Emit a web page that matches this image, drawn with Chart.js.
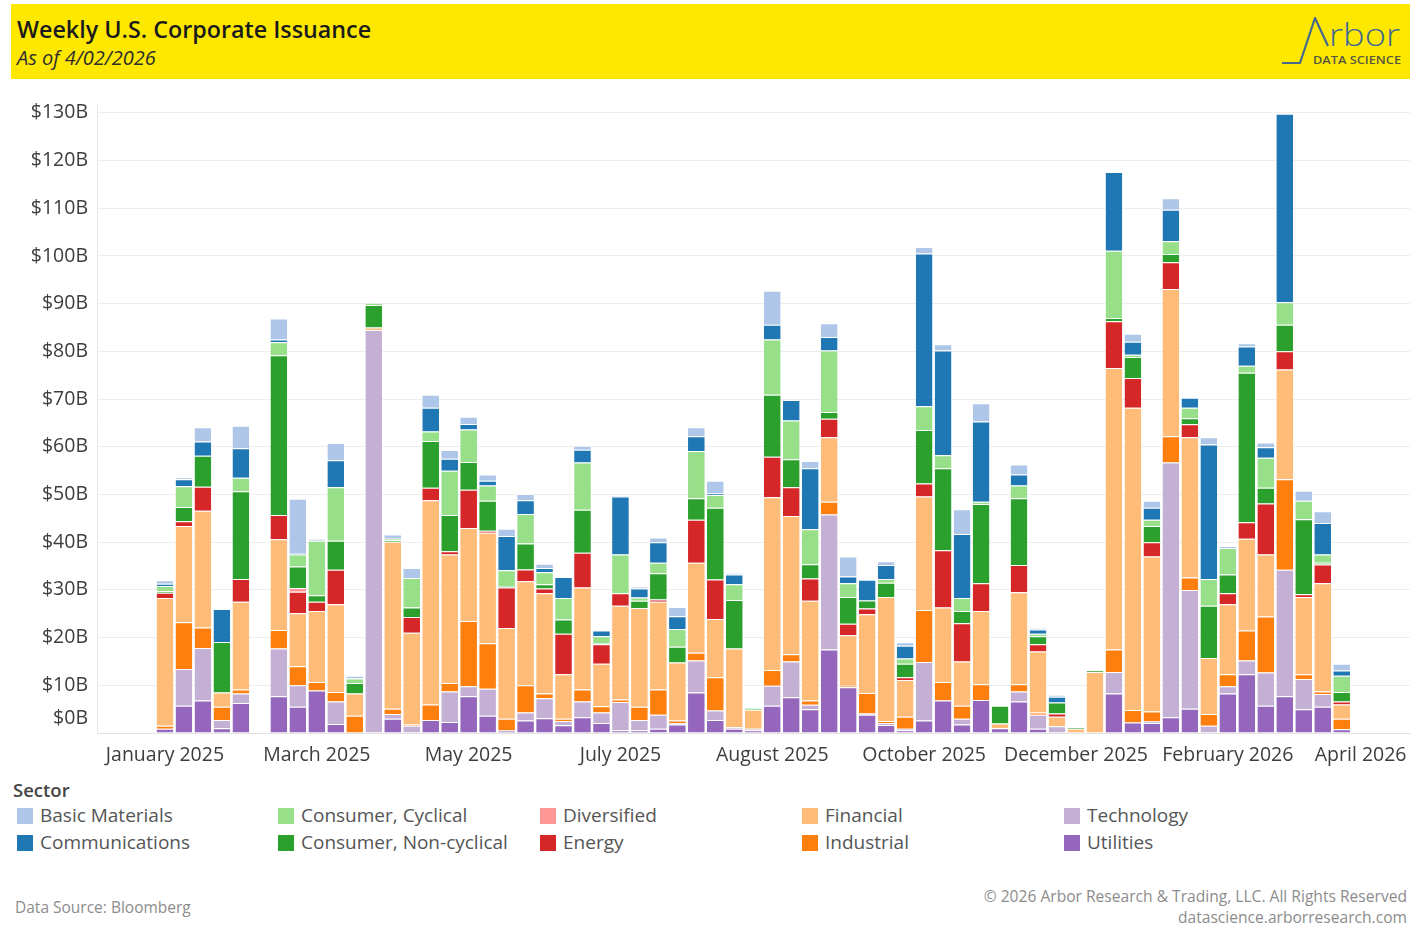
<!DOCTYPE html>
<html>
<head>
<meta charset="utf-8">
<script src="https://cdn.jsdelivr.net/npm/chart.js@4.4.1/dist/chart.umd.min.js"></script>
<style>
  html, body { margin: 0; padding: 0; background: #ffffff; width: 1422px; height: 925px; overflow: hidden; font-family: "Open Sans", sans-serif; }
  #header { position: absolute; left: 11px; top: 4px; width: 1399px; height: 75px; background: #ffe800; }
  #title { position: absolute; left: 6px; top: 9px; font-size: 23.3px; font-weight: 600; color: #1b1b1b; white-space: nowrap; }
  #subtitle { position: absolute; left: 6px; top: 40px; font-size: 20px; font-style: italic; color: #2e2e2e; white-space: nowrap; }
  #logo { position: absolute; left: 1270px; top: 10px; }
  #chartWrap { position: absolute; left: 0; top: 85px; width: 1422px; height: 690px; }
  #legendTitle { position: absolute; left: 13px; top: 777px; font-size: 18.5px; font-weight: 600; color: #444; }
  .lg { position: absolute; height: 20px; white-space: nowrap; font-size: 19px; color: #555; }
  .lg .sw { position: absolute; left: 0; top: 2px; width: 16px; height: 16px; }
  .lg .tx { position: absolute; left: 23px; top: -4px; }
  #source { position: absolute; left: 15px; top: 896px; font-size: 15.5px; color: #8c8c8c; }
  #copy { position: absolute; right: 15px; top: 886px; font-size: 15.6px; color: #8c8c8c; text-align: right; line-height: 21px; }
</style>
</head>
<body>
<div id="header">
  <div id="title">Weekly U.S. Corporate Issuance</div>
  <div id="subtitle">As of 4/02/2026</div>
</div>
<svg id="logo" width="145" height="62" viewBox="0 0 145 62">
  <polyline points="12,53 30,53 45,8 58,36" fill="none" stroke="#44698c" stroke-width="2.2" stroke-linejoin="round"/>
  <text x="59" y="36" font-family="Open Sans" font-weight="300" font-size="32" fill="#3f6a90" textLength="71" lengthAdjust="spacingAndGlyphs">rbor</text>
  <text x="43" y="54" font-family="Open Sans" font-weight="600" font-size="11" fill="#56563c" textLength="88" lengthAdjust="spacingAndGlyphs">DATA SCIENCE</text>
</svg>
<div id="chartWrap"><canvas id="c" width="1422" height="690"></canvas></div>
<div id="legendTitle">Sector</div>
<div id="legend"></div>
<div id="source">Data Source: Bloomberg</div>
<div id="copy">© 2026 Arbor Research &amp; Trading, LLC. All Rights Reserved<br>datascience.arborresearch.com</div>

<script>
// ---- Categories (week start dates) ----
const weeks = [
  "2025-01-20","2025-01-27","2025-02-03","2025-02-10","2025-02-17","2025-02-24","2025-03-03","2025-03-10","2025-03-17","2025-03-24",
  "2025-03-31","2025-04-07","2025-04-14","2025-04-21","2025-04-28","2025-05-05","2025-05-12","2025-05-19","2025-05-26","2025-06-02",
  "2025-06-09","2025-06-16","2025-06-23","2025-06-30","2025-07-07","2025-07-14","2025-07-21","2025-07-28","2025-08-04","2025-08-11",
  "2025-08-18","2025-08-25","2025-09-01","2025-09-08","2025-09-15","2025-09-22","2025-09-29","2025-10-06","2025-10-13","2025-10-20",
  "2025-10-27","2025-11-03","2025-11-10","2025-11-17","2025-11-24","2025-12-01","2025-12-08","2025-12-15","2025-12-22","2025-12-29",
  "2026-01-05","2026-01-12","2026-01-19","2026-01-26","2026-02-02","2026-02-09","2026-02-16","2026-02-23","2026-03-02","2026-03-09",
  "2026-03-16","2026-03-23","2026-03-30"
];

// ---- Tick labels ----
const tickSlots  = [0, 8, 16, 24, 32, 40, 48, 56, 63];
const tickLabels = ["January 2025","March 2025","May 2025","July 2025","August 2025","October 2025","December 2025","February 2026","April 2026"];
const yTickValues = [0,10,20,30,40,50,60,70,80,90,100,110,120,130];

// ---- Series values ($B) ----
const basicMaterials = [0.7,0.4,3.0,0,4.7,null,4.4,11.4,0.4,3.6, 0.6,0,0.9,2.1,2.7,1.8,1.5,1.3,1.5,1.3, 0.9,0,0.8,0,0.2,0.4,1.0,1.9,1.9,2.7, 0.4,0,7.1,0,1.5,2.9,4.2,0,0.8,0.7, 1.4,1.3,5.2,3.8,0,2.1,0.3,0.4,0,0, 0,1.7,1.5,2.4,0,1.5,0.4,0.7,1.0,0, 2.1,2.5,1.4];
const communications = [0.5,1.5,3.0,6.9,6.2,null,0.6,0.3,0,5.7, 0,0,0,0,5.0,2.5,1.2,1.0,7.2,2.9, 0.9,4.4,2.7,1.2,12.2,1.9,4.3,2.7,3.1,0.3, 2.0,0,3.1,4.3,12.8,2.8,1.4,4.3,2.9,2.7, 32.0,22.0,13.4,16.8,0,2.3,0.9,1.2,0,0, 16.5,2.7,2.5,6.6,2.1,28.2,0,4.0,2.2,39.5, 0,6.6,1.1];
const consumerCyclical = [1.1,4.3,0,0,2.8,null,2.7,2.5,11.4,11.2, 0.9,0.5,0.3,6.2,2.0,9.3,6.8,3.2,3.3,6.2, 2.5,4.5,9.9,1.5,8.1,0.7,2.2,3.7,9.9,2.7, 3.3,0.2,11.6,8.1,7.3,12.9,2.9,0,0.8,1.1, 5.0,2.7,2.7,0.5,0,2.7,0.5,0,0,0, 14.1,0.5,1.3,2.7,2.2,5.6,5.6,1.5,6.3,4.7, 3.9,1.7,3.4];
const consumerNonCyclical = [0.3,3.0,6.5,10.6,18.4,null,33.5,4.5,1.4,6.1, 2.2,4.7,0.3,2.0,9.8,7.6,5.8,6.3,0.3,5.4, 0.9,3.0,9.0,0.2,0,1.5,5.5,3.3,4.5,15.0, 10.2,0.2,13.0,5.9,3.0,1.4,5.6,1.7,3.0,2.8, 11.2,17.2,2.6,16.6,3.7,14.0,1.7,2.3,0.3,0.3, 0.7,4.4,3.4,1.7,1.3,11.0,3.9,31.3,3.3,5.6, 15.7,0.4,2.0];
const diversified = [0,0,0,0,0,null,0,0.8,0,0, 0,0,0,0,0,0,0,0,0,0, 0,0,0,0,0,0,0,0,0,0, 0,0,0,0,0,0,0,0,0,0, 0,0,0,0,0,0,0,0,0,0, 0,0,0,0,0,0,0,0,0,0, 0,0,0];
const energy = [1.1,1.0,5.0,0,4.8,null,5.1,4.5,1.9,7.2, 0,0,0,3.3,2.6,0.7,8.0,0.4,8.5,2.5, 1.0,8.5,7.3,4.1,2.6,0,0.5,0,9.0,8.3, 0,0,8.5,6.0,4.7,3.9,2.4,1.2,0,0.6, 2.7,12.0,8.0,5.8,0,5.7,1.5,0.7,0,0, 9.8,6.2,3.0,5.6,2.7,0,2.3,3.5,10.7,3.8, 0.6,3.9,0.6];
const financial = [26.8,20.2,24.5,3.0,18.4,null,19.0,11.1,14.9,18.4, 4.7,0.5,35.0,19.2,42.8,26.9,19.5,23.2,19.0,21.8, 21.0,9.3,21.4,8.9,19.7,20.7,18.4,12.2,18.9,12.2, 16.5,4.0,36.2,29.0,20.9,13.5,10.6,16.5,26.0,7.7, 23.8,15.6,9.3,15.4,1.0,19.3,12.8,2.0,0.9,12.8, 59.0,63.4,32.5,30.9,29.4,11.7,14.7,19.2,13.0,23.0, 16.2,22.7,3.0];
const industrial = [0.6,9.8,4.3,2.8,0.8,null,3.9,4.0,1.8,2.0, 3.6,0,1.1,0.3,3.3,1.8,13.7,9.5,2.5,5.7, 1.0,0.5,2.5,1.3,0.5,2.8,5.3,0.5,1.6,7.0, 0,0,3.3,1.5,0.9,2.7,0.3,4.3,0.4,2.5, 10.9,3.9,2.7,3.3,0,1.5,0.5,0,0,0, 4.7,2.6,2.1,5.5,2.6,2.5,2.5,6.3,11.7,19.0, 1.0,0.5,2.2];
const technology = [0,7.7,11.0,1.7,2.0,null,10.0,4.5,0,4.7, 0,84.5,1.0,1.5,0,6.4,2.1,5.7,0,1.7, 4.2,0.9,3.3,2.2,5.9,2.1,2.9,0.3,6.7,2.0, 0.3,0.3,4.2,7.5,0.9,28.3,0,0.3,0.4,0.3, 12.3,0,1.2,0,0,2.1,2.9,1.4,0,0, 4.5,0,0.3,53.4,24.9,1.5,1.5,2.9,7.0,26.5, 6.3,2.7,0];
const utilities = [0.9,5.7,6.8,1.0,6.3,null,7.7,5.5,8.9,1.9, 0,0,3.0,0,2.7,2.3,7.7,3.6,0.5,2.6, 3.1,1.6,3.3,2.1,0.6,0.6,0.9,1.8,8.5,2.7, 0.9,0.6,5.7,7.5,5.0,17.5,9.6,3.8,1.7,0.6, 2.6,6.8,1.8,6.9,1.0,6.6,0.9,0,0,0, 8.3,2.2,2.1,3.3,5.1,0,8.3,12.3,5.7,7.7, 5.0,5.5,0.8];

const sectorNames = ["Basic Materials","Communications","Consumer, Cyclical","Consumer, Non-cyclical","Diversified","Energy","Financial","Industrial","Technology","Utilities"];
const sectorSeries = [basicMaterials, communications, consumerCyclical, consumerNonCyclical, diversified, energy, financial, industrial, technology, utilities];
const sectorColors = ["#aec7e8","#1f77b4","#98df8a","#2ca02c","#ff9896","#d62728","#ffbb78","#ff7f0e","#c5b0d5","#9467bd"];

// ---- HTML legend (column-major, 2 rows) ----
const legendEl = document.getElementById('legend');
const colX = [17, 278, 540, 802, 1064];
const rowY = [806, 833];
sectorNames.forEach((name, i) => {
  const d = document.createElement('div');
  d.className = 'lg';
  d.style.left = colX[Math.floor(i / 2)] + 'px';
  d.style.top = rowY[i % 2] + 'px';
  d.innerHTML = '<span class="sw" style="background:' + sectorColors[i] + '"></span><span class="tx"></span>';
  d.querySelector('.tx').textContent = name;
  legendEl.appendChild(d);
});

// ---- Datasets: bottom of stack first ----
const datasets = sectorNames.map((name, i) => ({
  label: name,
  data: weeks.map((w, k) => ({ x: k, y: sectorSeries[i][k] ? sectorSeries[i][k] : null })),
  backgroundColor: sectorColors[i],
  borderColor: 'rgba(255,255,255,0.9)',
  borderWidth: { top: 1, bottom: 0, left: 0, right: 0 },
  borderSkipped: false,
  categoryPercentage: 1.0,
  barPercentage: 0.88
})).reverse();

const zeroLabelShift = {
  id: 'zeroLabelShift',
  beforeDraw(chart) {
    const ys = chart.scales.y;
    const items = ys.getLabelItems();
    items.forEach(it => {
      if (it.label === '$0B' && !it._shifted) {
        it.options.translation[1] -= 15;
        it._shifted = true;
      }
    });
  }
};

Chart.defaults.font.family = "'Open Sans', sans-serif";

new Chart(document.getElementById('c'), {
  type: 'bar',
  data: { datasets },
  options: {
    responsive: false,
    animation: false,
    maintainAspectRatio: false,
    layout: { padding: { left: 0, right: 12, top: 10, bottom: 0 } },
    plugins: { legend: { display: false }, tooltip: { enabled: false } },
    scales: {
      x: {
        type: 'linear',
        stacked: true,
        min: -3.58,
        max: 65.6,
        offset: false,
        afterBuildTicks: s => { s.ticks = tickSlots.map(v => ({ value: v })); },
        afterFit: s => { s.height = 42; },
        ticks: {
          autoSkip: false, maxRotation: 0, minRotation: 0, padding: 11,
          color: '#3d3d3d', font: { size: 19.5 },
          callback: v => { const i = tickSlots.indexOf(v); return i >= 0 ? tickLabels[i] : ''; }
        },
        grid: { display: false, offset: false, drawTicks: false },
        border: { display: true, color: '#e2e2e2' }
      },
      y: {
        stacked: true,
        min: 0,
        max: 131.5,
        afterBuildTicks: s => { s.ticks = yTickValues.map(v => ({ value: v })); },
        afterFit: s => { s.width = 97; },
        ticks: { padding: 9, color: '#3d3d3d', font: { size: 19.5 }, callback: v => '$' + v + 'B' },
        grid: { color: '#eeeeee', drawTicks: false },
        border: { display: true, color: '#e6e6e6' }
      }
    }
  },
  plugins: [zeroLabelShift]
});
</script>
</body>
</html>
